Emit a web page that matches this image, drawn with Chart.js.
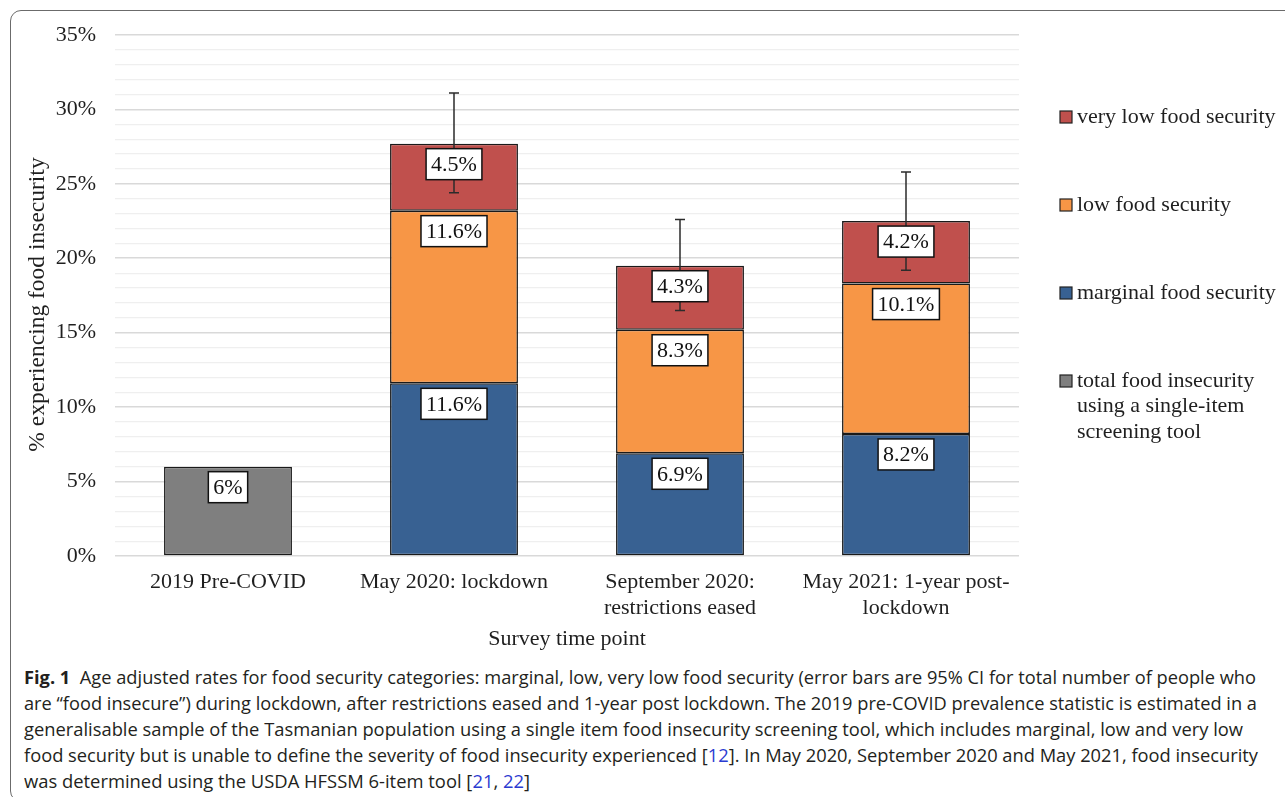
<!DOCTYPE html>
<html>
<head>
<meta charset="utf-8">
<script src="https://cdn.jsdelivr.net/npm/chart.js@4.4.1/dist/chart.umd.min.js"></script>
<style>
  html, body { margin: 0; padding: 0; background: #fff; width: 1285px; height: 797px; overflow: hidden; position: relative; }
  #frame { position: absolute; left: 10px; top: 10px; width: 1300px; height: 792px; border: 1.5px solid #6b6b6b; border-radius: 11px; box-sizing: border-box; }
  #wrap { position: absolute; left: 0; top: 0; width: 1285px; height: 660px; }
  #caption { position: absolute; left: 24px; top: 664px; font-family: "Open Sans", sans-serif; font-size: 18px; line-height: 26px; color: #231f20; }
  #caption .ln { white-space: nowrap; transform-origin: 0 0; height: 26px; width: max-content; }
  #caption .ref { color: #2b3bd1; }
  #caption b { font-weight: 700; }
</style>
</head>
<body>
<div id="frame"></div>
<div id="wrap"><canvas id="chart"></canvas></div>
<div id="caption">
  <div class="ln" data-w="1232"><b>Fig. 1</b>&nbsp; Age adjusted rates for food security categories: marginal, low, very low food security (error bars are 95% CI for total number of people who</div>
  <div class="ln" data-w="1233">are “food insecure”) during lockdown, after restrictions eased and 1-year post lockdown. The 2019 pre-COVID prevalence statistic is estimated in a</div>
  <div class="ln" data-w="1219">generalisable sample of the Tasmanian population using a single item food insecurity screening tool, which includes marginal, low and very low</div>
  <div class="ln" data-w="1234">food security but is unable to define the severity of food insecurity experienced [<span class="ref">12</span>]. In May 2020, September 2020 and May 2021, food insecurity</div>
  <div class="ln" data-w="506">was determined using the USDA HFSSM 6-item tool [<span class="ref">21</span>, <span class="ref">22</span>]</div>
</div>
<script>
// Survey time points (multi-line axis labels)
const categories = [
  ['2019 Pre-COVID'],
  ['May 2020: lockdown'],
  ['September 2020:', 'restrictions eased'],
  ['May 2021: 1-year post-', 'lockdown']
];

// Prevalence (%) by food security category
const singleItemTotal = [6, null, null, null];
const marginalSecurity = [null, 11.6, 6.9, 8.2];
const lowSecurity = [null, 11.6, 8.3, 10.1];
const veryLowSecurity = [null, 4.5, 4.3, 4.2];

// 95% CI for the total number of food insecure people
const ciLower = [null, 24.4, 16.5, 19.2];
const ciUpper = [null, 31.1, 22.6, 25.8];

// Series names (legend order is top to bottom)
const seriesNames = {
  veryLow: 'very low food security',
  low: 'low food security',
  marginal: 'marginal food security',
  total: ['total food insecurity', 'using a single-item', 'screening tool']
};
const yAxisTitle = '% experiencing food insecurity';
const xAxisTitle = 'Survey time point';

const Y_MAX = 35;
const SERIF = '"Liberation Serif", "Times New Roman", serif';
const FS = 22;
const INK = '#1f1f1f';
const COLORS = { total: '#7f7f7f', marginal: '#386192', low: '#f79646', veryLow: '#c0504d' };

// Error bars for the stacked totals
const errorBarPlugin = {
  id: 'errorBars',
  afterDatasetsDraw(chart) {
    const ctx = chart.ctx;
    const y = chart.scales.y;
    const meta = chart.getDatasetMeta(3);
    ctx.save();
    ctx.strokeStyle = '#2b2b2b';
    ctx.lineWidth = 1.5;
    ciLower.forEach((lo, i) => {
      if (lo === null) return;
      const x = meta.data[i].x;
      const yTop = y.getPixelForValue(ciUpper[i]);
      const yBot = y.getPixelForValue(lo);
      ctx.beginPath();
      ctx.moveTo(x, yTop); ctx.lineTo(x, yBot);
      ctx.moveTo(x - 5, yTop); ctx.lineTo(x + 5, yTop);
      ctx.moveTo(x - 5, yBot); ctx.lineTo(x + 5, yBot);
      ctx.stroke();
    });
    ctx.restore();
  }
};

// Boxed value labels near the top of each segment
const valueLabelPlugin = {
  id: 'valueLabels',
  afterDatasetsDraw(chart) {
    const ctx = chart.ctx;
    ctx.save();
    ctx.font = FS + 'px ' + SERIF;
    ctx.textAlign = 'center';
    ctx.textBaseline = 'middle';
    chart.data.datasets.forEach((ds, di) => {
      const meta = chart.getDatasetMeta(di);
      ds.data.forEach((v, i) => {
        if (v === null) return;
        const el = meta.data[i];
        const text = v + '%';
        const w = ctx.measureText(text).width + 10;
        const h = 31;
        const top = el.y + 5;
        const left = el.x - w / 2;
        ctx.fillStyle = '#ffffff';
        ctx.fillRect(left, top, w, h);
        ctx.strokeStyle = '#111';
        ctx.lineWidth = 1.5;
        ctx.strokeRect(left, top, w, h);
        ctx.fillStyle = '#111';
        ctx.fillText(text, el.x, top + h / 2 + 1);
      });
    });
    ctx.restore();
  }
};

// Legend at the right with wide spacing, plus the rotated value-axis title
const sideLegendPlugin = {
  id: 'sideLegend',
  afterDraw(chart) {
    const ctx = chart.ctx;
    const area = chart.chartArea;
    const order = [3, 2, 1, 0];
    ctx.save();
    ctx.font = FS + 'px ' + SERIF;
    ctx.textBaseline = 'middle';
    ctx.textAlign = 'left';
    order.forEach((di, k) => {
      const ds = chart.data.datasets[di];
      const cy = area.top + 82 + k * 88;
      const bx = area.right + 41;
      ctx.fillStyle = ds.backgroundColor;
      ctx.fillRect(bx, cy - 6, 12, 12);
      ctx.strokeStyle = '#222';
      ctx.lineWidth = 1.2;
      ctx.strokeRect(bx, cy - 6, 12, 12);
      ctx.fillStyle = INK;
      const lines = Array.isArray(ds.label) ? ds.label : [ds.label];
      lines.forEach((t, li) => ctx.fillText(t, bx + 17, cy + li * 25.5));
    });

    ctx.translate(38, (area.top + area.bottom) / 2 + 9);
    ctx.rotate(-Math.PI / 2);
    ctx.textAlign = 'center';
    ctx.font = '23.5px ' + SERIF;
    ctx.fillText(yAxisTitle, 0, 0);
    ctx.restore();
  }
};

const barStyle = { borderColor: '#1a1a1a', borderWidth: 1.5, borderSkipped: false, barPercentage: 0.566, categoryPercentage: 1 };

new Chart(document.getElementById('chart'), {
  type: 'bar',
  data: {
    labels: categories,
    datasets: [
      Object.assign({ label: seriesNames.total, data: singleItemTotal, backgroundColor: COLORS.total }, barStyle),
      Object.assign({ label: seriesNames.marginal, data: marginalSecurity, backgroundColor: COLORS.marginal }, barStyle),
      Object.assign({ label: seriesNames.low, data: lowSecurity, backgroundColor: COLORS.low }, barStyle),
      Object.assign({ label: seriesNames.veryLow, data: veryLowSecurity, backgroundColor: COLORS.veryLow }, barStyle)
    ]
  },
  options: {
    responsive: true,
    maintainAspectRatio: false,
    devicePixelRatio: 1,
    animation: false,
    layout: { padding: { left: 0, right: 266, top: 35, bottom: 0 } },
    plugins: { legend: { display: false }, tooltip: { enabled: false } },
    scales: {
      x: {
        stacked: true,
        grid: { display: false, drawTicks: false },
        border: { display: false },
        ticks: { color: INK, font: { family: SERIF, size: FS, lineHeight: 1.18 }, padding: 13, maxRotation: 0, autoSkip: false },
        title: { display: true, text: xAxisTitle, color: INK, font: { family: SERIF, size: FS }, padding: { top: 0, bottom: 8 } },
        afterFit(scale) { scale.height = 104; }
      },
      y: {
        stacked: true,
        min: 0,
        max: Y_MAX,
        border: { display: false },
        grid: {
          drawTicks: false,
          color: c => (c.tick && c.tick.value % 5 === 0) ? '#d9d9d9' : '#efefef',
          lineWidth: c => (c.tick && c.tick.value % 5 === 0) ? 1.6 : 1.2
        },
        ticks: {
          stepSize: 1,
          autoSkip: false,
          color: INK,
          font: { family: SERIF, size: FS },
          padding: 19,
          callback: v => (v % 5 === 0 ? v + '%' : '')
        },
        afterFit(scale) { scale.width = 115; }
      }
    }
  },
  plugins: [errorBarPlugin, valueLabelPlugin, sideLegendPlugin]
});

// Fit each caption line to its column width
function fitCaption() {
  document.querySelectorAll('#caption .ln').forEach(el => {
    el.style.transform = 'none';
    const w = el.getBoundingClientRect().width;
    const target = parseFloat(el.dataset.w);
    el.style.transform = 'scaleX(' + (target / w) + ')';
  });
}
fitCaption();
if (document.fonts && document.fonts.ready) document.fonts.ready.then(fitCaption);
</script>
</body>
</html>
